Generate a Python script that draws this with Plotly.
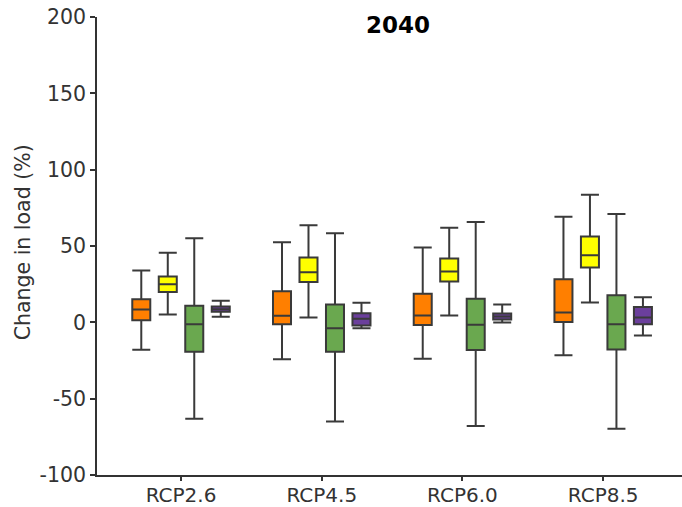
import plotly.graph_objects as go

categories = ["RCP2.6", "RCP4.5", "RCP6.0", "RCP8.5"]
series_names = ["S1", "S2", "S3", "S4"]
colors = ["#ff7f00", "#ffff00", "#6aa84f", "#6b3f9c"]

# per series: lowerfence, q1, median, q3, upperfence for each category
lower = [
    [-18.0, -24.1, -23.9, -21.5],
    [5.1, 3.2, 4.5, 13.0],
    [-63.2, -64.9, -67.9, -69.7],
    [3.6, -3.8, -0.1, -8.6],
]
q1 = [
    [1.4, -1.2, -1.8, 0.3],
    [19.8, 26.5, 26.7, 35.9],
    [-19.3, -19.3, -18.2, -17.8],
    [6.9, -2.1, 1.8, -1.2],
]
median = [
    [8.4, 4.3, 4.5, 6.4],
    [25.0, 32.8, 33.3, 44.0],
    [-1.2, -3.8, -1.6, -1.2],
    [8.6, 2.3, 3.8, 3.1],
]
q3 = [
    [15.2, 20.4, 18.7, 28.3],
    [30.0, 42.4, 41.8, 56.2],
    [10.8, 11.7, 15.4, 17.8],
    [10.4, 6.0, 5.8, 10.1],
]
upper = [
    [33.9, 52.5, 49.0, 69.2],
    [45.5, 63.6, 62.0, 83.6],
    [55.1, 58.4, 65.8, 71.0],
    [14.1, 12.8, 11.7, 16.5],
]
y_ticks = [-100, -50, 0, 50, 100, 150, 200]
y_tick_text = ["-100", "-50", "0", "50", "100", "150", "200"]

fig = go.Figure()
for i, name in enumerate(series_names):
    fig.add_trace(go.Box(
        name=name,
        x=categories,
        q1=q1[i], median=median[i], q3=q3[i],
        lowerfence=lower[i], upperfence=upper[i],
        fillcolor=colors[i],
        line=dict(color="#3a3a3a", width=2),
        whiskerwidth=1,
        boxpoints=False,
        showlegend=False,
        hoverinfo="skip",
    ))

axis_color = "#333333"
fig.update_layout(
    width=682, height=507,
    margin=dict(l=97, r=0, t=17, b=32),
    plot_bgcolor="white", paper_bgcolor="white",
    boxmode="group", boxgap=0.247, boxgroupgap=0.32,
    font=dict(family="DejaVu Sans", size=20.5, color=axis_color),
    xaxis=dict(
        type="category", categoryarray=categories,
        range=[-0.597, 3.56],
        showline=True, linecolor=axis_color, linewidth=1.5,
        ticks="outside", ticklen=4, tickcolor=axis_color, tickwidth=1.5,
        tickfont=dict(size=20),
        ticklabelstandoff=-3,
        showgrid=False, zeroline=False, automargin=False,
    ),
    yaxis=dict(
        range=[-100, 200], tickvals=y_ticks, ticktext=y_tick_text,
        showline=True, linecolor=axis_color, linewidth=1.5,
        ticks="outside", ticklen=5, tickcolor=axis_color, tickwidth=1.5,
        showgrid=False, zeroline=False, automargin=False,
    ),
    annotations=[
        dict(text="<b>2040</b>", xref="paper", yref="paper",
             x=0.514, y=0.983, xanchor="center", yanchor="middle",
             showarrow=False, font=dict(family="DejaVu Sans", size=23, color="black")),
        dict(text="Change in load (%)", xref="paper", yref="paper",
             x=-0.1265, y=0.508, xanchor="center", yanchor="middle", textangle=-90,
             showarrow=False, font=dict(family="DejaVu Sans", size=20.5, color=axis_color)),
    ],
)

fig.write_html("out.html")
